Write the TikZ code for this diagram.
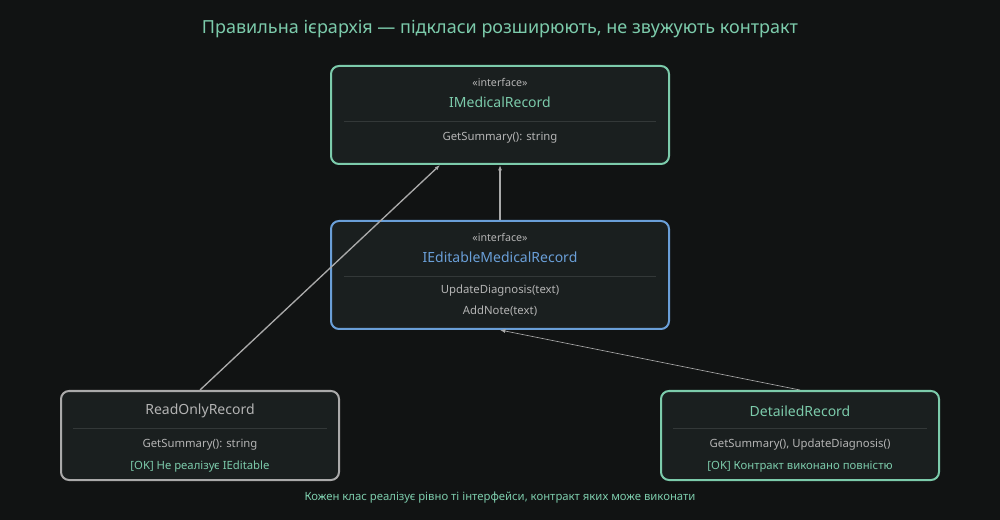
\documentclass[tikz,border=0pt]{standalone}
\usepackage{fontspec}
\setmainfont{Noto Sans}
\usetikzlibrary{positioning}
\usetikzlibrary{arrows.meta}
\definecolor{bg}{HTML}{111313}
\definecolor{boxfill}{HTML}{1A1F1F}
\definecolor{teal}{HTML}{7CCBAB}
\definecolor{blueline}{HTML}{6A9FD8}
\definecolor{grayline}{HTML}{AAAAAA}
\definecolor{divider}{HTML}{333838}
\definecolor{txt}{HTML}{B4B4B4}
\begin{document}
\begin{tikzpicture}[x=0.75pt, y=-0.75pt]
    \tikzset{
        card/.style={
            draw=#1, fill=boxfill, line width=1.5pt,
            rounded corners=6pt, rectangle, inner sep=0pt,
        },
        stereo/.style={text=txt, font=\fontsize{8}{9}\selectfont},
        title name/.style={font=\bfseries\fontsize{10.5}{12}\selectfont},
        member/.style={text=txt, font=\fontsize{8.5}{10}\selectfont},
        note/.style={text=teal, font=\fontsize{8.5}{10}\selectfont},
        link/.style={draw=grayline, -{Latex[length=4pt, width=3pt]}},
    }

    \fill[bg] (0, 0) rectangle (1000, 520);
    \useasboundingbox (0, 0) rectangle (1000, 520);

    \node[text=teal, font=\bfseries\fontsize{13.5}{16}\selectfont]
        (heading) at (500, 29)
        {Правильна ієрархія — підкласи розширюють, не звужують контракт};

    % Base interface
    \node[card=teal, minimum width=253.5pt, minimum height=73.5pt]
        (medical) at (500, 115) {};
    \node[stereo] (medical-stereo) at (500, 82) {<<interface>>};
    \node[title name, text=teal] (medical-name) at (500, 102) {IMedicalRecord};
    \draw[divider] (344, 121) -- (656, 121);
    \node[member] (medical-m1) at (500, 138) {GetSummary(): string};

    % Editable interface
    \node[card=blueline, minimum width=253.5pt, minimum height=81pt]
        (editable) at (500, 275) {};
    \node[stereo] (editable-stereo) at (500, 237) {<<interface>>};
    \node[title name, text=blueline] (editable-name) at (500, 257) {IEditableMedicalRecord};
    \draw[divider] (344, 276) -- (656, 276);
    \node[member] (editable-m1) at (500, 291) {UpdateDiagnosis(text)};
    \node[member] (editable-m2) at (500, 311) {AddNote(text)};

    % Read only class
    \node[card=grayline, minimum width=208.5pt, minimum height=66.75pt]
        (readonly) at (200, 435.5) {};
    \node[title name, text=txt] (readonly-name) at (200, 411) {ReadOnlyRecord};
    \draw[divider] (73, 428) -- (327, 428);
    \node[member] (readonly-m1) at (200, 445) {GetSummary(): string};
    \node[note] (readonly-ok) at (200, 467) {[OK] Не реалізує IEditable};

    % Detailed class
    \node[card=teal, minimum width=208.5pt, minimum height=66.75pt]
        (detailed) at (800, 435.5) {};
    \node[title name, text=teal] (detailed-name) at (800, 411) {DetailedRecord};
    \draw[divider] (673, 428) -- (927, 428);
    \node[member] (detailed-m1) at (800, 445) {GetSummary(), UpdateDiagnosis()};
    \node[note] (detailed-ok) at (800, 467) {[OK] Контракт виконано повністю};

    % Links
    \draw[link, line width=1pt] (readonly.north) -- (440, 165);
    \draw[link, line width=1pt] (editable.north) -- (medical.south);
    \draw[link, line width=0.5pt] (detailed.north) -- (editable.south);

    \node[note] (footer) at (500, 498)
        {Кожен клас реалізує рівно ті інтерфейси, контракт яких може виконати};
\end{tikzpicture}
\end{document}
